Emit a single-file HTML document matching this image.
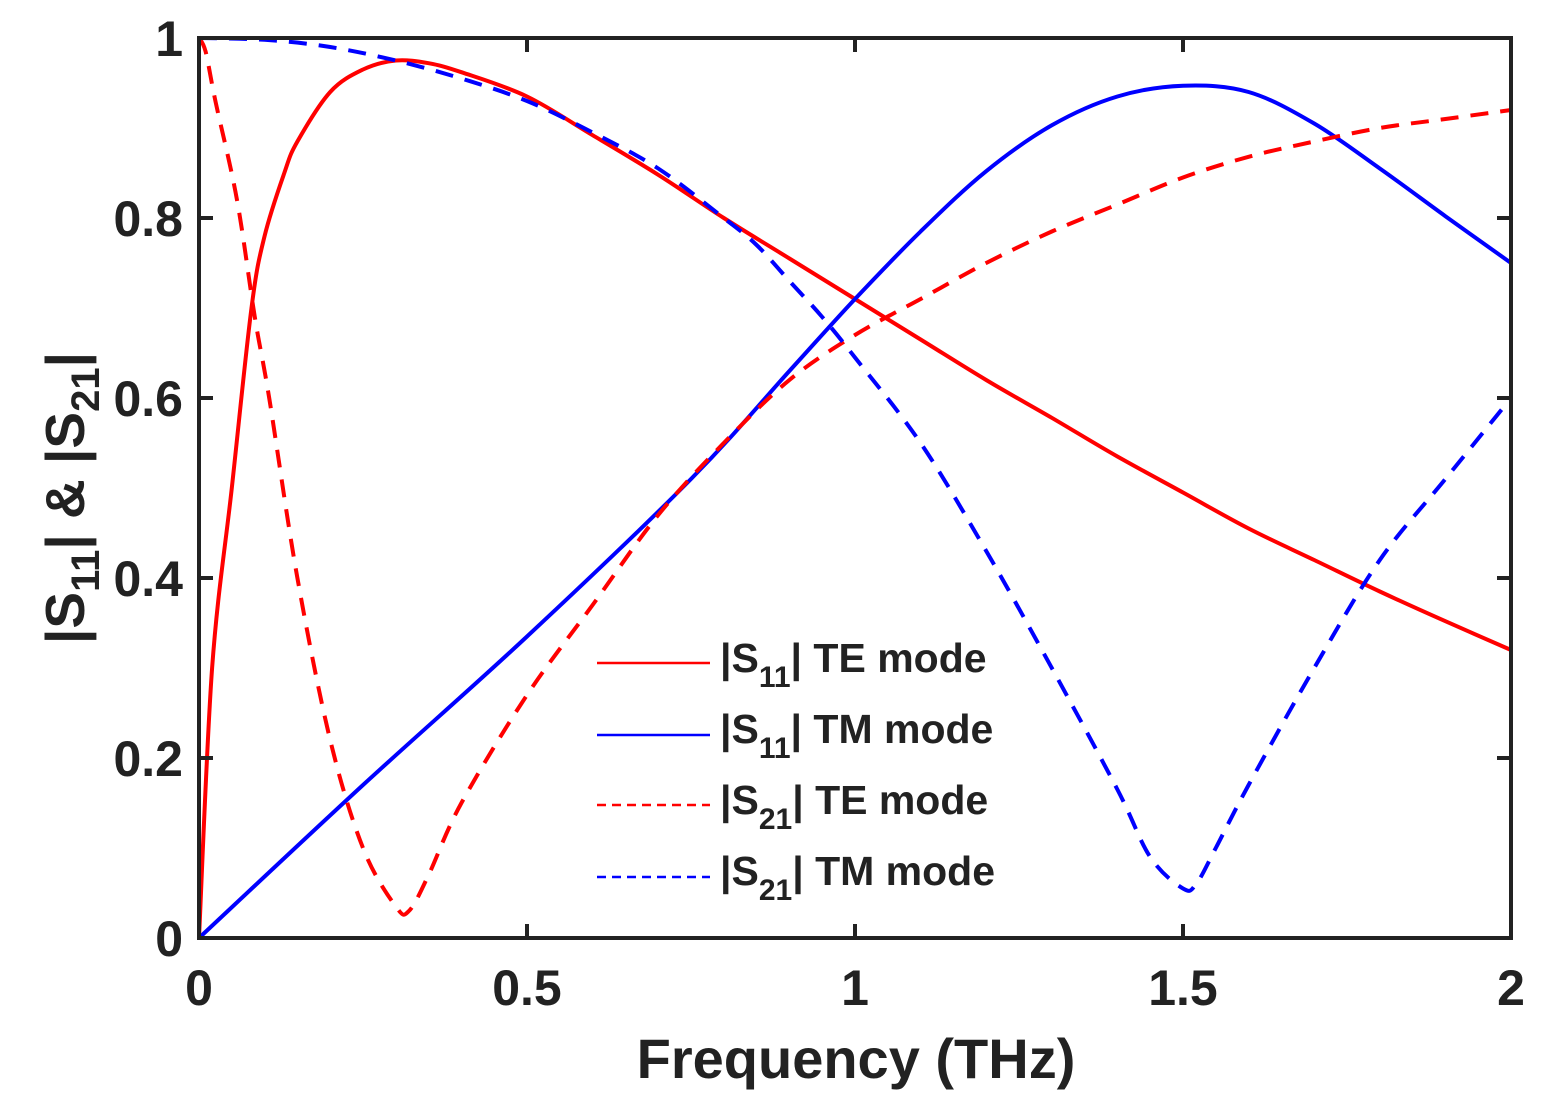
<!DOCTYPE html>
<html><head><meta charset="utf-8"><style>
html,body{margin:0;padding:0;background:#fff;width:1544px;height:1101px;overflow:hidden}
svg text{font-family:"Liberation Sans",Arial,sans-serif;font-weight:bold;fill:#222}
</style></head><body>
<svg id="chart" width="1544" height="1101"></svg>
<script>
const xTicks=[0,0.5,1,1.5,2];
const xTickLabels=["0","0.5","1","1.5","2"];
const yTicks=[0,0.2,0.4,0.6,0.8,1];
const yTickLabels=["0","0.2","0.4","0.6","0.8","1"];
const s11TE_f=[0,0.02,0.05,0.08,0.1,0.13,0.15,0.2,0.25,0.3,0.35,0.4,0.5,0.6,0.7,0.8,0.9,1.0,1.1,1.2,1.3,1.4,1.5,1.6,1.7,1.8,1.9,2.0];
const s11TE_v=[0,0.3,0.5,0.7,0.78,0.85,0.885,0.94,0.965,0.975,0.972,0.962,0.935,0.892,0.848,0.8,0.755,0.71,0.665,0.62,0.578,0.535,0.495,0.455,0.42,0.385,0.352,0.32];
const s11TM_f=[0,0.25,0.5,0.75,0.9,1.0,1.1,1.2,1.3,1.4,1.5,1.6,1.7,1.8,1.9,2.0];
const s11TM_v=[0,0.17,0.335,0.51,0.63,0.71,0.785,0.852,0.903,0.935,0.947,0.94,0.905,0.855,0.802,0.75];
const s21TE_f=[0,0.01,0.025,0.058,0.085,0.107,0.15,0.2,0.25,0.3,0.32,0.35,0.4,0.5,0.6,0.7,0.8,0.9,1.0,1.1,1.2,1.3,1.4,1.5,1.6,1.7,1.8,1.9,2.0];
const s21TE_v=[1,0.985,0.93,0.82,0.69,0.6,0.4,0.22,0.1,0.035,0.03,0.07,0.15,0.27,0.37,0.47,0.55,0.62,0.67,0.71,0.75,0.785,0.815,0.845,0.868,0.885,0.9,0.91,0.92];
const s21TM_f=[0,0.1,0.2,0.3,0.4,0.5,0.6,0.7,0.8,0.85,0.9,0.95,1.0,1.1,1.2,1.3,1.4,1.45,1.5,1.52,1.55,1.6,1.7,1.8,1.9,2.0];
const s21TM_v=[1,0.998,0.99,0.975,0.955,0.93,0.895,0.855,0.8,0.77,0.73,0.69,0.645,0.55,0.43,0.3,0.165,0.09,0.055,0.06,0.1,0.17,0.3,0.42,0.51,0.6];

const L=199,R=1511,T=38,B=938;
const xs=f=>L+(R-L)*f/2;
const ys=v=>B-(B-T)*v;
const NS="http://www.w3.org/2000/svg";
const svg=document.getElementById('chart');
function mk(tag,attrs,parent){const e=document.createElementNS(NS,tag);for(const k in attrs)e.setAttribute(k,attrs[k]);(parent||svg).appendChild(e);return e;}

function smoothPath(pts){
  let d='M'+pts[0][0].toFixed(1)+','+pts[0][1].toFixed(1);
  for(let i=0;i<pts.length-1;i++){
    const p0=pts[Math.max(0,i-1)],p1=pts[i],p2=pts[i+1],p3=pts[Math.min(pts.length-1,i+2)];
    const c1x=p1[0]+(p2[0]-p0[0])/6,c1y=p1[1]+(p2[1]-p0[1])/6;
    const c2x=p2[0]-(p3[0]-p1[0])/6,c2y=p2[1]-(p3[1]-p1[1])/6;
    d+='C'+c1x.toFixed(1)+','+c1y.toFixed(1)+' '+c2x.toFixed(1)+','+c2y.toFixed(1)+' '+p2[0].toFixed(1)+','+p2[1].toFixed(1);
  }
  return d;
}
function series(fs,vs,color,dash,name){
  const pts=fs.map((f,i)=>[xs(f),ys(vs[i])]);
  const p=mk('path',{d:smoothPath(pts),fill:'none',stroke:color,'stroke-width':4,'stroke-dasharray':dash||'none','stroke-linejoin':'round'});
  
  
}
series(s11TE_f,s11TE_v,'#ff0000','', 's11-te-line');
series(s11TM_f,s11TM_v,'#0000ff','', 's11-tm-line');
series(s21TE_f,s21TE_v,'#ff0000','18,12','s21-te-line');
series(s21TM_f,s21TM_v,'#0000ff','18,12','s21-tm-line');

const box=mk('rect',{x:L,y:T,width:R-L,height:B-T,fill:'none',stroke:'#222','stroke-width':4});



xTicks.forEach((t,i)=>{
  const x=xs(t);
  mk('line',{x1:x,y1:B,x2:x,y2:B-14,stroke:'#222','stroke-width':4});
  mk('line',{x1:x,y1:T,x2:x,y2:T+14,stroke:'#222','stroke-width':4});
  const tx=mk('text',{x:x,y:B+67,'text-anchor':'middle','font-size':50});
  tx.textContent=xTickLabels[i];
  
  
});
yTicks.forEach((t,i)=>{
  const y=ys(t);
  mk('line',{x1:L,y1:y,x2:L+14,y2:y,stroke:'#222','stroke-width':4});
  mk('line',{x1:R,y1:y,x2:R-14,y2:y,stroke:'#222','stroke-width':4});
  const ty=mk('text',{x:L-16,y:y+18,'text-anchor':'end','font-size':50});
  ty.textContent=yTickLabels[i];
  
  
});
</script>
<svg width="1544" height="1101" style="position:absolute;left:0;top:0">
<text x="856" y="1078" text-anchor="middle" font-size="56">Frequency (THz)</text>
<text transform="translate(84,498) rotate(-90)" text-anchor="middle" font-size="55">|S<tspan font-size="40" dy="15">11</tspan><tspan dy="-15">| &amp; |S</tspan><tspan font-size="40" dy="15">21</tspan><tspan dy="-15">|</tspan></text>
<g>
<line x1="597" y1="663" x2="710" y2="663" stroke="#ff0000" stroke-width="2.5"/>
<text x="720" y="672" font-size="41">|S<tspan font-size="30" dy="15">11</tspan><tspan dy="-15">| TE mode</tspan></text>
<line x1="597" y1="735" x2="710" y2="735" stroke="#0000ff" stroke-width="2.5"/>
<text x="720" y="743" font-size="41">|S<tspan font-size="30" dy="15">11</tspan><tspan dy="-15">| TM mode</tspan></text>
<line x1="597" y1="805" x2="710" y2="805" stroke="#ff0000" stroke-width="2.5" stroke-dasharray="9,6"/>
<text x="720" y="814" font-size="41">|S<tspan font-size="30" dy="15">21</tspan><tspan dy="-15">| TE mode</tspan></text>
<line x1="597" y1="877" x2="710" y2="877" stroke="#0000ff" stroke-width="2.5" stroke-dasharray="9,6"/>
<text x="720" y="885" font-size="41">|S<tspan font-size="30" dy="15">21</tspan><tspan dy="-15">| TM mode</tspan></text>
</g>
</svg>
</body></html>
